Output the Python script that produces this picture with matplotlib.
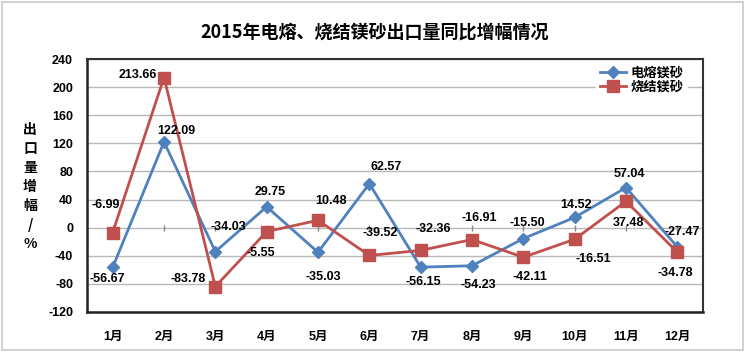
import matplotlib.pyplot as plt
from matplotlib.patches import Rectangle

plt.rcParams['font.family'] = ['Liberation Sans', 'Noto Sans CJK SC', 'DejaVu Sans']

months = ['1月', '2月', '3月', '4月', '5月', '6月', '7月', '8月', '9月', '10月', '11月', '12月']
fused = [-56.67, 122.09, -34.03, 29.75, -35.03, 62.57, -56.15, -54.23, -15.50, 14.52, 57.04, -27.47]
sintered = [-6.99, 213.66, -83.78, -5.55, 10.48, -39.52, -32.36, -16.91, -42.11, -16.51, 37.48, -34.78]
yticks = list(range(-120, 241, 40))

# label offsets in pixels (dx, dy)
fused_off = [(-5, -12), (12, 11), (13, 25), (4, 15), (5, -25), (17, 17),
             (3, -15), (6, -19), (4, 16), (1, 12), (3, 14), (5, 15)]
sint_off = [(-7, 28), (-26, 3), (-27, 8), (-6, -21), (13, 19), (11, 22),
            (13, 21), (7, 22), (7, -20), (19, -20), (2, -22), (-2, -21)]

fig = plt.figure(figsize=(7.5, 3.54), dpi=100)
fig.patches.append(Rectangle((0.003, 0.01), 0.987, 0.984, transform=fig.transFigure,
                             fill=False, edgecolor='#c8c8c8', linewidth=1.2))
ax = fig.add_axes([87 / 750, 1 - 312 / 354, 616 / 750, 253 / 354])

x = range(len(months))
ax.plot(x, fused, color='#4F81BD', lw=2, marker='D', ms=6, label='电熔镁砂', zorder=3)
ax.plot(x, sintered, color='#C0504D', lw=2, marker='s', ms=9, label='烧结镁砂', zorder=3)

for i, v in enumerate(fused):
    ax.annotate(f'{v:.2f}', (i, v), xytext=fused_off[i], textcoords='offset pixels',
                ha='center', va='center', fontsize=9, fontweight='bold', zorder=4)
for i, v in enumerate(sintered):
    ax.annotate(f'{v:.2f}', (i, v), xytext=sint_off[i], textcoords='offset pixels',
                ha='center', va='center', fontsize=9, fontweight='bold', zorder=4)

# small category ticks along the zero line
ax.plot(list(x), [0] * len(months), ls='none', marker='|', ms=4,
        color='#888888', zorder=2)

ax.set_xlim(-0.5, 11.5)
ax.set_ylim(-120, 240)
ax.set_yticks(yticks)
ax.set_yticklabels([str(t) for t in yticks], fontsize=9, fontweight='bold')
ax.set_xticks(list(x))
ax.set_xticklabels(months, fontsize=9, fontweight='bold')
ax.tick_params(length=0, pad=10)
ax.tick_params(axis='x', pad=14)
ax.grid(axis='y', color='#b8b8b8', lw=1)
ax.set_axisbelow(True)
for s in ['left', 'bottom']:
    ax.spines[s].set_linewidth(1.8)
    ax.spines[s].set_color('#222222')
for s in ['top', 'right']:
    ax.spines[s].set_linewidth(1.5)
    ax.spines[s].set_color('#333333')

leg = ax.legend(loc='upper right', bbox_to_anchor=(0.985, 1.012), frameon=True,
                handlelength=2.0, borderpad=0.3, labelspacing=0.15,
                handletextpad=0.3, prop={'weight': 'bold', 'size': 9.5})
leg.get_frame().set_edgecolor('white')
leg.get_frame().set_facecolor('white')
leg.get_frame().set_alpha(1)

fig.text(0.5, 1 - 32 / 354, '2015年电熔、烧结镁砂出口量同比增幅情况', ha='center', va='center',
         fontsize=13, fontweight='bold', family=['Noto Sans CJK SC', 'DejaVu Sans'])
fig.text(30 / 750, 1 - 187 / 354, '\n'.join('出口量增幅/%'), ha='center', va='center',
         fontsize=10, fontweight='bold', linespacing=1.45,
         family=['Noto Sans CJK SC', 'DejaVu Sans'])

fig.savefig('out.png', dpi=100)
